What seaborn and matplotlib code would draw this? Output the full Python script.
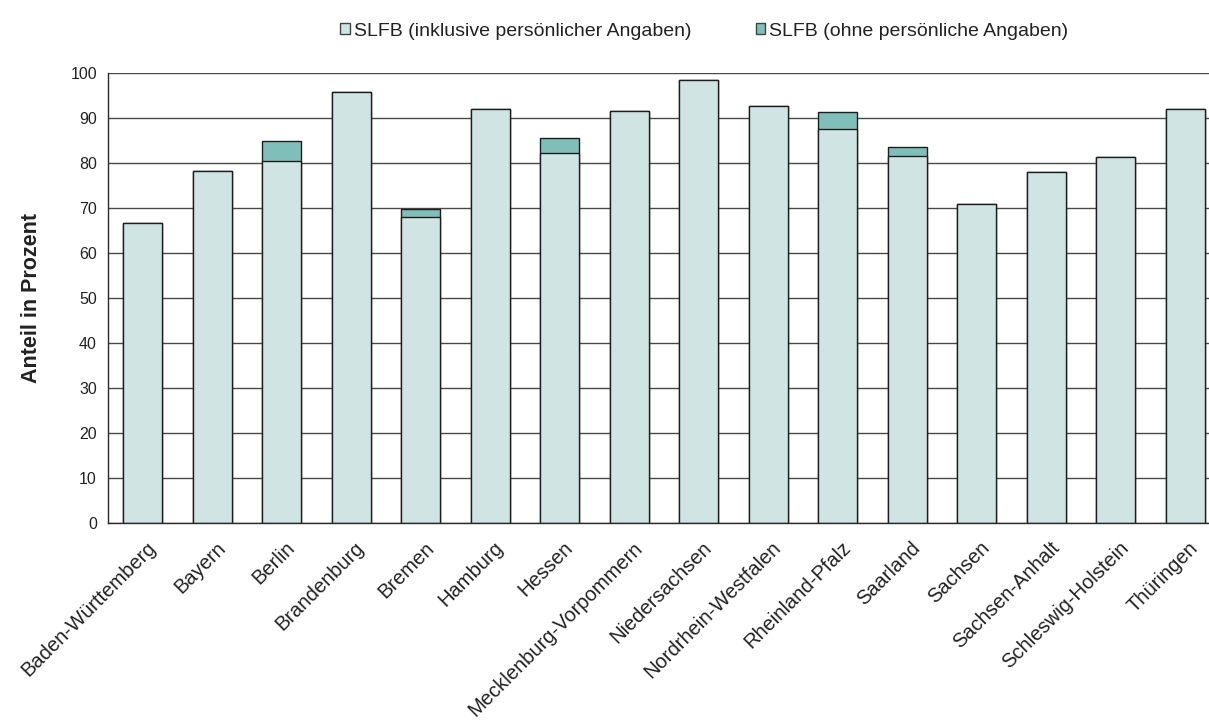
import numpy as np
import pandas as pd
import seaborn as sns
import matplotlib.pyplot as plt
import matplotlib.transforms as mtransforms
from matplotlib.patches import Patch

laender = ['Baden-Württemberg', 'Bayern', 'Berlin', 'Brandenburg', 'Bremen', 'Hamburg', 'Hessen',
           'Mecklenburg-Vorpommern', 'Niedersachsen', 'Nordrhein-Westfalen', 'Rheinland-Pfalz',
           'Saarland', 'Sachsen', 'Sachsen-Anhalt', 'Schleswig-Holstein', 'Thüringen']
inkl = [66.6, 78.2, 80.4, 95.7, 68.0, 91.9, 82.3, 91.5, 98.4, 92.7, 87.5, 81.6, 71.0, 77.9, 81.4, 91.9]
ohne = [0, 0, 4.6, 0, 1.7, 0, 3.3, 0, 0, 0, 3.8, 2.0, 0, 0, 0, 0]
serien = ['SLFB (inklusive persönlicher Angaben)', 'SLFB (ohne persönliche Angaben)']

hell = '#d0e4e3'
teal = '#80bfb9'
kante = '#1e1e1e'

sns.set_style('white')
plt.rcParams['font.family'] = ['Liberation Sans', 'DejaVu Sans']

df = pd.DataFrame({'land': laender, 'inkl': inkl, 'ohne': ohne})
df['gesamt'] = df['inkl'] + df['ohne']

fig = plt.figure(figsize=(12.09, 7.22), dpi=100)
ax = fig.add_axes([108 / 1209, 1 - 523 / 722, 1112 / 1209, 450 / 722])

# stacked: draw total first (teal), then the base on top
sns.barplot(data=df, x='land', y='gesamt', color=teal, saturation=1, width=0.56,
            edgecolor=kante, linewidth=1.0, ax=ax)
sns.barplot(data=df, x='land', y='inkl', color=hell, saturation=1, width=0.56,
            edgecolor=kante, linewidth=1.0, ax=ax)

ax.set_xlim(-0.5, len(laender) - 0.5)
ax.set_ylim(0, 100)
ax.set_yticks(range(0, 101, 10))
ax.yaxis.grid(True, color='#4a4a4a', linewidth=1.0)
ax.set_axisbelow(True)
for s in ['top', 'right']:
    ax.spines[s].set_visible(False)
for s in ['left', 'bottom']:
    ax.spines[s].set_color('#2a2a2a')
    ax.spines[s].set_linewidth(1.0)

ax.set_xticks(np.arange(len(laender)))
ax.set_xticks(np.arange(len(laender) + 1) - 0.5, minor=True)
ax.tick_params(axis='x', which='major', length=0, pad=11)
ax.tick_params(axis='x', which='minor', length=5, color='#2a2a2a', direction='out')
ax.tick_params(axis='y', length=5, color='#2a2a2a', direction='out', labelsize=11.5,
               labelcolor='#222222', pad=3)
ax.set_xticklabels(laender, rotation=45, ha='right', va='top', rotation_mode='anchor',
                   fontsize=14.5, color='#222222')
shift = mtransforms.ScaledTranslation(2.5 / 72, 0, fig.dpi_scale_trans)
for lab in ax.get_xticklabels():
    lab.set_transform(lab.get_transform() + shift)

ax.set_xlabel('')
ax.set_ylabel('Anteil in Prozent', fontsize=15.5, fontweight='bold', color='#222222', labelpad=20)

handles = [Patch(facecolor=hell, edgecolor='#444444', linewidth=1.0),
           Patch(facecolor=teal, edgecolor='#444444', linewidth=1.0)]
fig.legend(handles, serien, loc='center', bbox_to_anchor=(0.5827, 0.957), ncol=2, frameon=False,
           fontsize=14, handlelength=0.5, handleheight=0.5, handletextpad=0.2,
           columnspacing=3.3, labelcolor='#222222')

fig.savefig('out.png', dpi=100)
